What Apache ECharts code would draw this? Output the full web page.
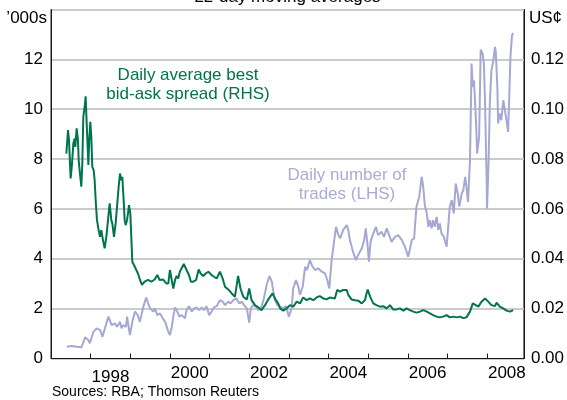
<!DOCTYPE html>
<html><head><meta charset="utf-8">
<script src="https://cdn.jsdelivr.net/npm/echarts@6/dist/echarts.min.js"></script>
<style>html,body{margin:0;padding:0;background:#fff}#c{width:567px;height:400px}</style>
</head><body><div id="c"></div>
<script>
// Daily average best bid-ask spread (RHS, US cents) - 22-day moving average
const spreadYears = [1997.387,1997.429,1997.454,1997.496,1997.530,1997.563,1997.597,1997.614,1997.647,1997.681,1997.698,1997.731,1997.765,1997.790,1997.815,1997.849,1997.874,1997.900,1997.925,1997.942,1997.967,1997.992,1998.017,1998.042,1998.076,1998.101,1998.127,1998.160,1998.202,1998.236,1998.269,1998.311,1998.354,1998.396,1998.438,1998.480,1998.522,1998.547,1998.589,1998.631,1998.665,1998.707,1998.740,1998.774,1998.799,1998.833,1998.858,1998.883,1998.917,1998.942,1998.967,1999.001,1999.026,1999.051,1999.093,1999.152,1999.194,1999.245,1999.295,1999.362,1999.446,1999.530,1999.614,1999.682,1999.741,1999.825,1999.909,1999.96,2000.00,2000.04,2000.085,2000.13,2000.17,2000.21,2000.25,2000.30,2000.35,2000.42,2000.48,2000.53,2000.59,2000.66,2000.725,2000.775,2000.84,2000.90,2000.97,2001.01,2001.05,2001.11,2001.18,2001.26,2001.33,2001.39,2001.47,2001.56,2001.64,2001.72,2001.78,2001.85,2001.94,2002.00,2002.06,2002.145,2002.23,2002.31,2002.40,2002.48,2002.59,2002.65,2002.73,2002.78,2002.86,2002.94,2003.03,2003.11,2003.20,2003.28,2003.36,2003.45,2003.53,2003.62,2003.70,2003.78,2003.87,2003.95,2004.04,2004.16,2004.22,2004.29,2004.37,2004.46,2004.50,2004.58,2004.67,2004.75,2004.84,2004.92,2004.96,2004.99,2005.05,2005.13,2005.21,2005.30,2005.38,2005.47,2005.55,2005.63,2005.72,2005.80,2005.89,2005.97,2006.05,2006.14,2006.22,2006.31,2006.39,2006.48,2006.56,2006.64,2006.73,2006.81,2006.89,2006.98,2007.06,2007.15,2007.23,2007.32,2007.40,2007.48,2007.57,2007.64,2007.69,2007.78,2007.86,2007.95,2008.03,2008.11,2008.20,2008.24,2008.32,2008.41,2008.49,2008.58,2008.66];
const spreadValues = [0.0822,0.0916,0.0876,0.0722,0.0782,0.0862,0.0883,0.0849,0.0923,0.0876,0.0796,0.0742,0.0689,0.0782,0.0969,0.1009,0.1052,0.0943,0.0849,0.0776,0.0883,0.0949,0.0889,0.0769,0.0756,0.0715,0.0635,0.0555,0.0515,0.0488,0.0515,0.0475,0.0442,0.0488,0.0555,0.0622,0.0555,0.0542,0.0488,0.0542,0.0608,0.0689,0.0742,0.0715,0.0729,0.0635,0.0555,0.0535,0.0555,0.0582,0.0615,0.0582,0.0488,0.0388,0.0375,0.0355,0.0341,0.0315,0.0295,0.0308,0.0315,0.0308,0.0317,0.0335,0.0315,0.0317,0.0301,0.0301,0.0355,0.0362,0.0281,0.0315,0.0331,0.0321,0.0348,0.0341,0.0379,0.0355,0.0335,0.0308,0.0308,0.0315,0.0357,0.0341,0.0331,0.0341,0.0348,0.0352,0.0335,0.0328,0.0321,0.0348,0.0321,0.0288,0.0277,0.0261,0.0248,0.0331,0.0281,0.0248,0.0237,0.0281,0.0234,0.0214,0.0205,0.0194,0.0214,0.0237,0.0261,0.0241,0.0221,0.0201,0.0192,0.0201,0.0214,0.0208,0.0228,0.0221,0.0245,0.0234,0.0241,0.0234,0.0245,0.0250,0.0241,0.0237,0.0245,0.0241,0.0275,0.0268,0.0275,0.0275,0.0255,0.0237,0.0234,0.0232,0.0221,0.0234,0.0261,0.0277,0.0248,0.0221,0.0214,0.0208,0.0210,0.0201,0.0214,0.0197,0.0197,0.0201,0.0192,0.0201,0.0194,0.0188,0.0184,0.0188,0.0194,0.0188,0.0181,0.0174,0.0168,0.0165,0.0168,0.0174,0.0165,0.0168,0.0165,0.0168,0.0162,0.0165,0.0188,0.0221,0.0214,0.0208,0.0228,0.0241,0.0228,0.0214,0.0210,0.0224,0.0208,0.0201,0.0192,0.0188,0.0194];

// Daily number of trades (LHS, '000s) - 22-day moving average
const tradesYears = [1997.40,1997.52,1997.65,1997.77,1997.86,1997.94,1997.98,1998.07,1998.15,1998.24,1998.30,1998.36,1998.45,1998.49,1998.53,1998.61,1998.67,1998.74,1998.78,1998.82,1998.89,1998.92,1998.99,1999.06,1999.12,1999.19,1999.24,1999.33,1999.40,1999.45,1999.50,1999.58,1999.62,1999.68,1999.75,1999.82,1999.88,1999.96,2000.00,2000.04,2000.085,2000.13,2000.17,2000.24,2000.30,2000.38,2000.42,2000.48,2000.55,2000.61,2000.67,2000.74,2000.80,2000.86,2000.92,2000.99,2001.05,2001.11,2001.18,2001.26,2001.33,2001.39,2001.47,2001.53,2001.60,2001.68,2001.75,2001.81,2001.87,2001.94,2002.00,2002.04,2002.10,2002.17,2002.23,2002.31,2002.37,2002.44,2002.51,2002.57,2002.61,2002.65,2002.71,2002.78,2002.86,2002.93,2003.00,2003.07,2003.11,2003.18,2003.24,2003.28,2003.35,2003.41,2003.46,2003.53,2003.60,2003.66,2003.74,2003.83,2003.91,2003.97,2004.02,2004.08,2004.14,2004.19,2004.25,2004.29,2004.37,2004.46,2004.50,2004.54,2004.62,2004.69,2004.75,2004.84,2004.90,2004.94,2004.99,2005.02,2005.06,2005.13,2005.20,2005.25,2005.34,2005.40,2005.47,2005.53,2005.59,2005.68,2005.76,2005.85,2005.93,2006.01,2006.05,2006.10,2006.16,2006.20,2006.22,2006.29,2006.35,2006.39,2006.43,2006.48,2006.52,2006.56,2006.60,2006.64,2006.68,2006.73,2006.77,2006.81,2006.85,2006.91,2006.98,2007.02,2007.06,2007.11,2007.16,2007.21,2007.26,2007.30,2007.36,2007.40,2007.45,2007.48,2007.52,2007.57,2007.61,2007.64,2007.67,2007.72,2007.75,2007.80,2007.84,2007.89,2007.92,2007.95,2007.99,2008.00,2008.04,2008.07,2008.11,2008.16,2008.20,2008.22,2008.26,2008.28,2008.32,2008.36,2008.41,2008.45,2008.49,2008.53,2008.56,2008.59,2008.63,2008.66];
const tradesValues = [0.47,0.50,0.47,0.45,0.85,0.74,0.61,1.07,1.21,1.14,0.87,1.21,1.68,1.74,1.34,1.41,1.27,1.47,1.21,1.34,1.27,1.68,0.94,1.54,1.88,1.74,1.47,2.08,2.45,2.21,2.01,1.88,2.01,1.74,1.81,1.61,1.47,1.07,0.94,1.21,1.68,2.05,1.94,1.68,1.74,1.61,1.94,2.10,1.88,2.01,2.05,1.94,2.05,1.94,2.10,1.74,1.88,2.05,2.10,2.34,2.28,2.14,2.28,2.21,2.34,2.41,2.21,2.28,2.14,2.01,1.44,2.01,2.14,2.08,1.94,2.08,2.41,2.95,3.31,3.08,2.68,2.34,2.14,2.08,2.01,2.10,1.68,2.01,2.81,3.15,2.88,2.55,2.88,3.68,3.55,3.95,3.68,3.55,3.62,3.48,3.41,3.15,2.81,3.95,4.68,5.28,4.95,4.82,5.15,5.35,5.15,4.75,4.28,3.95,4.15,4.42,4.75,5.22,4.48,3.88,4.68,5.02,5.28,4.95,5.08,4.88,5.22,4.95,4.68,4.88,4.95,4.75,4.48,4.08,4.35,4.75,4.82,5.68,6.09,6.49,7.29,6.89,6.15,5.82,5.28,5.55,5.22,5.55,5.28,5.68,5.15,5.42,5.02,4.88,4.48,5.28,6.09,6.35,5.82,7.02,6.62,6.09,6.62,6.75,7.29,6.89,6.28,7.96,11.83,10.89,11.16,9.56,8.22,8.89,12.39,12.23,11.83,10.23,7.15,6.02,7.96,10.23,11.56,11.96,12.50,12.30,10.89,9.43,9.83,9.56,10.36,9.96,9.56,9.09,10.49,12.10,12.97,13.06];

const yearLabels = [1998, 2000, 2002, 2004, 2006, 2008];
const leftTickMax = 14, leftTickStep = 2;
const rightTickMax = 0.14, rightTickStep = 0.02;

const FONT = '"Liberation Sans", Arial, sans-serif';
const GREEN = '#00744d';
const LAV = '#a5a8d2';
const LAVTXT = '#a9acd5';

const zip = (xs, ys) => xs.map((x, i) => [x, ys[i]]);

const chart = echarts.init(document.getElementById('c'), null, {renderer: 'canvas'});
chart.setOption({
  animation: false,
  backgroundColor: '#ffffff',
  textStyle: {fontFamily: FONT},
  grid: {left: 51, right: 43, top: 9.5, bottom: 41.5, show: true, borderColor: '#1a1a1a', borderWidth: 1, containLabel: false},
  xAxis: [
    {
      type: 'value', min: 1997, max: 2008.93, interval: 1, position: 'bottom',
      axisLine: {show: true, onZero: false, lineStyle: {color: '#1a1a1a', width: 1}},
      axisTick: {show: true, inside: true, length: 5, lineStyle: {color: '#1a1a1a', width: 1}},
      axisLabel: {show: false},
      splitLine: {show: false}
    },
    {
      type: 'value', min: 1996.5, max: 2008.43, interval: 0.5, position: 'bottom',
      axisLine: {show: false}, axisTick: {show: false}, splitLine: {show: false},
      axisLabel: {
        show: true, margin: 6, color: '#000', fontSize: 17, fontFamily: FONT,
        showMinLabel: true, showMaxLabel: true, hideOverlap: false,
        formatter: function (v) {
          const r = Math.round(v);
          if (Math.abs(v - r) < 1e-6 && yearLabels.indexOf(r) >= 0) {
            return r === 1998 ? '{low|1998}' : String(r);
          }
          return '';
        },
        rich: {low: {fontSize: 17, fontFamily: FONT, color: '#000', lineHeight: 26}}
      }
    }
  ],
  yAxis: [
    {
      type: 'value', min: 0, max: leftTickMax, interval: leftTickStep, position: 'left',
      axisLine: {show: true, lineStyle: {color: '#1a1a1a', width: 1}},
      axisTick: {show: false},
      axisLabel: {show: true, margin: 8, color: '#000', fontSize: 17, fontFamily: FONT, showMaxLabel: false},
      splitLine: {show: true, lineStyle: {color: '#cbcbcb', width: 2}}
    },
    {
      type: 'value', min: 0, max: rightTickMax, interval: rightTickStep, position: 'right',
      axisLine: {show: true, lineStyle: {color: '#1a1a1a', width: 1}},
      axisTick: {show: false},
      axisLabel: {show: true, margin: 7, color: '#000', fontSize: 17, fontFamily: FONT, showMaxLabel: false,
        formatter: v => v.toFixed(2)},
      splitLine: {show: false}
    }
  ],
  series: [
    {
      name: 'Daily number of trades (LHS)', type: 'line', xAxisIndex: 0, yAxisIndex: 0,
      data: zip(tradesYears, tradesValues), showSymbol: false, symbol: 'none',
      lineStyle: {color: LAV, width: 2}, z: 2
    },
    {
      name: 'Daily average best bid-ask spread (RHS)', type: 'line', xAxisIndex: 0, yAxisIndex: 1,
      data: zip(spreadYears, spreadValues), showSymbol: false, symbol: 'none',
      lineStyle: {color: GREEN, width: 2}, z: 3
    }
  ],
  graphic: [
    {type: 'text', x: 287.5, y: -2.5, style: {text: '22-day moving averages', font: '17px ' + FONT, fill: '#000', align: 'center', verticalAlign: 'middle'}},
    {type: 'text', x: 47, y: 18, style: {text: '\u2019000s', font: '17px ' + FONT, fill: '#000', align: 'right', verticalAlign: 'middle'}},
    {type: 'text', x: 529, y: 18, style: {text: 'US\u00a2', font: '17px ' + FONT, fill: '#000', align: 'left', verticalAlign: 'middle'}},
    {type: 'text', x: 188, y: 85, style: {text: 'Daily average best\nbid-ask spread (RHS)', font: '17px ' + FONT, fill: GREEN, align: 'center', verticalAlign: 'middle', lineHeight: 18.5}},
    {type: 'text', x: 347, y: 185, style: {text: 'Daily number of\ntrades (LHS)', font: '17px ' + FONT, fill: LAVTXT, align: 'center', verticalAlign: 'middle', lineHeight: 19.5}},
    {type: 'text', x: 52, y: 392, style: {text: 'Sources: RBA; Thomson Reuters', font: '14px ' + FONT, fill: '#000', align: 'left', verticalAlign: 'middle'}}
  ]
});
</script>
</body></html>
